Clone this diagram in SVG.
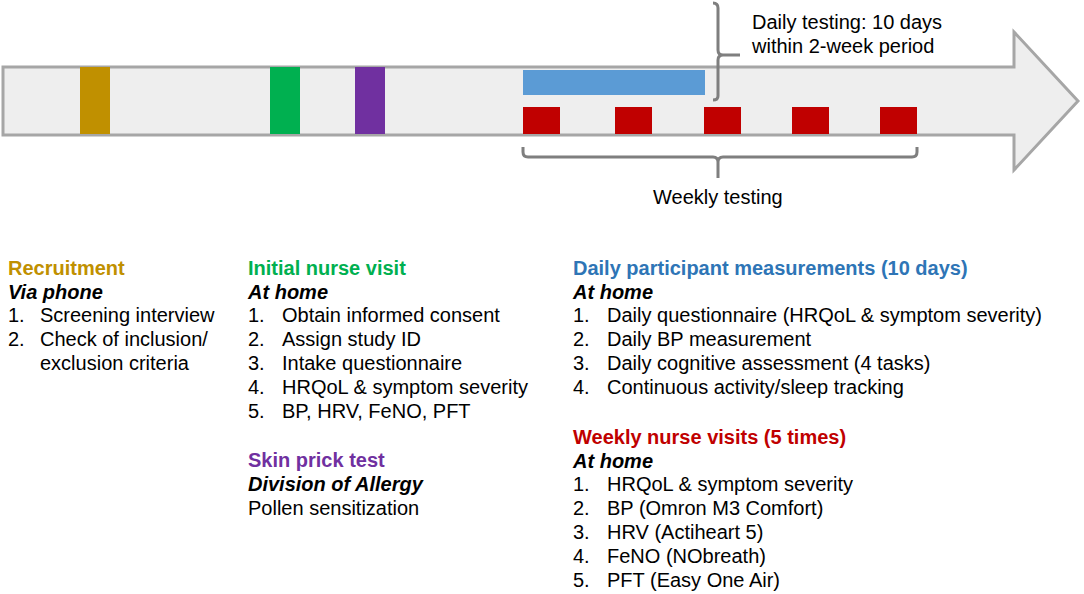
<svg xmlns="http://www.w3.org/2000/svg" width="1084" height="594" viewBox="0 0 1084 594">
<style>
text{font-family:"Liberation Sans",Arial,sans-serif;font-size:20px;fill:#000}
.h{font-weight:bold}
.i{font-weight:bold;font-style:italic}
.br{fill:none;stroke:#7f7f7f;stroke-width:3}
</style>
<rect width="1084" height="594" fill="#fff"/>
<g id="timeline">
<path d="M3,67 H1014 V32 L1078,101 L1014,170 V135 H3 Z" fill="#eeeeee" stroke="#a6a6a6" stroke-width="3"/>
</g>
<g id="markers">
<rect x="80" y="67" width="30" height="67" fill="#c09000"/>
<rect x="270" y="67" width="30" height="67" fill="#00b050"/>
<rect x="355" y="67" width="30" height="67" fill="#7030a0"/>
<rect x="523" y="70" width="182" height="25" fill="#5b9bd5"/>
<rect x="523" y="107" width="37" height="27" fill="#c00000"/>
<rect x="615" y="107" width="37" height="27" fill="#c00000"/>
<rect x="704" y="107" width="37" height="27" fill="#c00000"/>
<rect x="792" y="107" width="37" height="27" fill="#c00000"/>
<rect x="880" y="107" width="37" height="27" fill="#c00000"/>
</g>
<g id="connectors">
<path class="br" d="M713,3 Q718,3 718,8 V50 Q718,55 723,55 H740 M723,55 Q718,55 718,60 V96 Q718,100 713,100"/>
<path class="br" d="M523,147 V152 Q523,157 528,157 H713 Q718,157 718,162 V178 M718,162 Q718,157 723,157 H912 Q917,157 917,152 V147"/>
</g>
<g id="labels">
<text x="752" y="29">Daily testing: 10 days</text>
<text x="752" y="53">within 2-week period</text>
<text x="653" y="204">Weekly testing</text>
</g>
<g id="recruitment">
<text x="8" y="275" class="h" style="fill:#c09000">Recruitment</text>
<text x="8" y="299" class="i">Via phone</text>
<text x="8" y="322">1.</text><text x="40" y="322">Screening interview</text>
<text x="8" y="346">2.</text><text x="40" y="346">Check of inclusion/</text>
<text x="40" y="370">exclusion criteria</text>
</g>
<g id="initial">
<text x="248" y="275" class="h" style="fill:#00b050">Initial nurse visit</text>
<text x="248" y="299" class="i">At home</text>
<text x="248" y="322">1.</text><text x="282" y="322">Obtain informed consent</text>
<text x="248" y="346">2.</text><text x="282" y="346">Assign study ID</text>
<text x="248" y="370">3.</text><text x="282" y="370">Intake questionnaire</text>
<text x="248" y="394">4.</text><text x="282" y="394">HRQoL &amp; symptom severity</text>
<text x="248" y="418">5.</text><text x="282" y="418">BP, HRV, FeNO, PFT</text>
</g>
<g id="skin">
<text x="248" y="467" class="h" style="fill:#7030a0">Skin prick test</text>
<text x="248" y="491" class="i">Division of Allergy</text>
<text x="248" y="515">Pollen sensitization</text>
</g>
<g id="daily">
<text x="573" y="275" class="h" style="fill:#2e75b6">Daily participant measurements (10 days)</text>
<text x="573" y="299" class="i">At home</text>
<text x="573" y="322">1.</text><text x="607" y="322">Daily questionnaire (HRQoL &amp; symptom severity)</text>
<text x="573" y="346">2.</text><text x="607" y="346">Daily BP measurement</text>
<text x="573" y="370">3.</text><text x="607" y="370">Daily cognitive assessment (4 tasks)</text>
<text x="573" y="394">4.</text><text x="607" y="394">Continuous activity/sleep tracking</text>
</g>
<g id="weekly">
<text x="573" y="444" class="h" style="fill:#c00000">Weekly nurse visits (5 times)</text>
<text x="573" y="468" class="i">At home</text>
<text x="573" y="491">1.</text><text x="607" y="491">HRQoL &amp; symptom severity</text>
<text x="573" y="515">2.</text><text x="607" y="515">BP (Omron M3 Comfort)</text>
<text x="573" y="539">3.</text><text x="607" y="539">HRV (Actiheart 5)</text>
<text x="573" y="563">4.</text><text x="607" y="563">FeNO (NObreath)</text>
<text x="573" y="587">5.</text><text x="607" y="587">PFT (Easy One Air)</text>
</g>
</svg>
